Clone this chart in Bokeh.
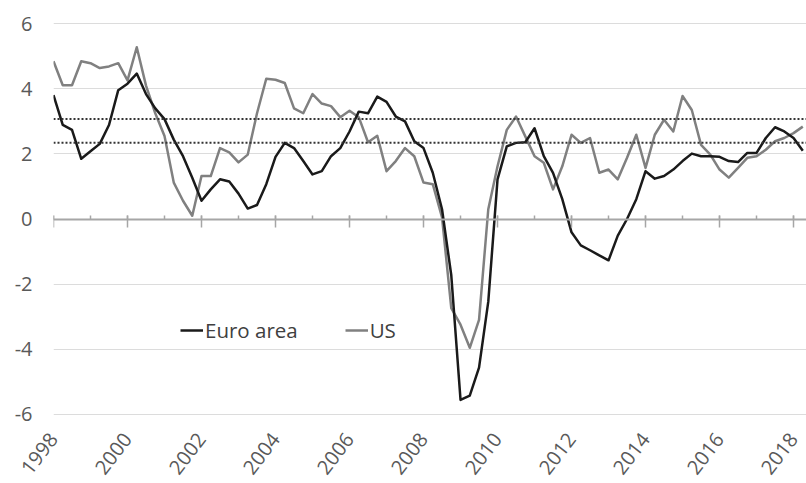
import math
from bokeh.plotting import figure
from bokeh.models import (Range1d, LinearAxis, SingleIntervalTicker, Span,
                          Legend, LegendItem, ColumnDataSource)
from bokeh.embed import file_html
from bokeh.resources import INLINE

# ---- data (quarterly, 1998Q1 - 2018Q2), % y/y ----
start_year = 1998
euro_area = [
    3.81, 2.89, 2.74, 1.85, 2.08, 2.31, 2.89, 3.96,
    4.16, 4.47, 3.84, 3.40, 3.07, 2.44, 1.93, 1.27,
    0.56, 0.91, 1.22, 1.15, 0.78, 0.32, 0.43, 1.07,
    1.91, 2.34, 2.18, 1.78, 1.37, 1.47, 1.93, 2.18,
    2.69, 3.30, 3.25, 3.76, 3.60, 3.15, 3.00, 2.39,
    2.18, 1.42, 0.30, -1.73, -5.56, -5.43, -4.57, -2.54,
    1.22, 2.23, 2.34, 2.36, 2.79, 1.93, 1.42, 0.61,
    -0.41, -0.81, -0.96, -1.12, -1.27, -0.51, 0.00, 0.61,
    1.47, 1.24, 1.32, 1.52, 1.78, 2.01, 1.93, 1.93,
    1.91, 1.78, 1.75, 2.03, 2.03, 2.49, 2.82, 2.69,
    2.49, 2.10,
]
us = [
    4.85, 4.11, 4.11, 4.85, 4.79, 4.64, 4.69, 4.79,
    4.26, 5.28, 4.10, 3.25, 2.55, 1.12, 0.56, 0.10,
    1.32, 1.32, 2.18, 2.05, 1.74, 1.98, 3.25, 4.31,
    4.28, 4.18, 3.40, 3.25, 3.84, 3.55, 3.47, 3.13,
    3.33, 3.13, 2.36, 2.56, 1.47, 1.78, 2.18, 1.93,
    1.12, 1.07, 0.05, -2.74, -3.25, -3.96, -3.10, 0.30,
    1.62, 2.74, 3.15, 2.54, 1.93, 1.73, 0.91, 1.62,
    2.59, 2.34, 2.49, 1.42, 1.52, 1.22, 1.88, 2.59,
    1.57, 2.59, 3.05, 2.69, 3.78, 3.35, 2.28, 1.98,
    1.52, 1.27, 1.57, 1.88, 1.93, 2.13, 2.39, 2.49,
    2.64, 2.84,
]
us_average = 3.07
euro_average = 2.34
series_labels = ["Euro area", "US"]
y_ticks = [-6, -4, -2, 0, 2, 4, 6]
x_ticks = list(range(1998, 2020, 2))

quarters = [start_year + i / 4 for i in range(len(euro_area))]
src = ColumnDataSource(dict(x=quarters, euro=euro_area, us=us))

FONT = "Open Sans"
LABEL_COLOR = "#595959"
AXIS_GRAY = "#a6a6a6"

p = figure(width=806, height=483, output_backend="svg", toolbar_location=None,
           x_range=Range1d(1998, 2018.35), y_range=Range1d(-6.04, 6.04),
           min_border_left=53, min_border_right=0, min_border_top=22,
           min_border_bottom=64)
p.outline_line_color = None
p.background_fill_color = "white"
p.border_fill_color = "white"

# y axis: labels only
p.yaxis.ticker = SingleIntervalTicker(interval=2, num_minor_ticks=0)
p.yaxis.major_label_overrides = {t: str(t) for t in y_ticks}
p.yaxis.axis_line_color = None
p.yaxis.major_tick_line_color = None
p.yaxis.minor_tick_line_color = None
p.yaxis.major_tick_out = 0
p.yaxis.major_label_text_font = FONT
p.yaxis.major_label_text_font_size = "20px"
p.yaxis.major_label_text_color = LABEL_COLOR
p.yaxis.major_label_standoff = 21

p.ygrid.ticker = SingleIntervalTicker(interval=2, num_minor_ticks=0)
p.ygrid.grid_line_color = "#dcdcdc"
p.ygrid.grid_line_width = 1
p.xgrid.grid_line_color = None

# x axis at bottom: rotated labels only
p.xaxis.ticker = SingleIntervalTicker(interval=2, num_minor_ticks=2)
p.xaxis.axis_line_color = None
p.xaxis.major_tick_line_color = None
p.xaxis.minor_tick_line_color = None
p.xaxis.major_tick_out = 0
p.xaxis.major_tick_in = 0
p.xaxis.major_label_orientation = 0.91
p.xaxis.major_label_text_font = FONT
p.xaxis.major_label_text_font_size = "20px"
p.xaxis.major_label_text_color = LABEL_COLOR
p.xaxis.major_label_standoff = 16

# zero line axis with ticks
zero_axis = LinearAxis(
    fixed_location=0,
    ticker=SingleIntervalTicker(interval=2, num_minor_ticks=2),
    axis_line_color=AXIS_GRAY, axis_line_width=2,
    major_tick_line_color=AXIS_GRAY, major_tick_line_width=1.5,
    major_tick_in=4, major_tick_out=8,
    minor_tick_line_color=AXIS_GRAY, minor_tick_line_width=1.5,
    minor_tick_in=4, minor_tick_out=0,
    major_label_overrides={t: "" for t in x_ticks},
    major_label_text_font_size="1px", major_label_text_alpha=0,
    major_label_standoff=0,
)
p.add_layout(zero_axis, "below")

# average lines
for lvl in (us_average, euro_average):
    p.add_layout(Span(location=lvl, dimension="width", line_color="#333333",
                      line_width=2, line_dash="2 2"))

r_us = p.line("x", "us", source=src, line_color="#808080", line_width=2.5,
              line_join="round")
r_eu = p.line("x", "euro", source=src, line_color="#1a1a1a", line_width=2.5,
              line_join="round")

legend = Legend(items=[LegendItem(label=series_labels[0], renderers=[r_eu]),
                       LegendItem(label=series_labels[1], renderers=[r_us])],
                location=(127, 71), orientation="horizontal",
                glyph_width=23, glyph_height=20, label_standoff=2, spacing=47,
                padding=0, margin=0, border_line_color=None,
                background_fill_alpha=0,
                label_text_font=FONT, label_text_font_size="20.5px",
                label_text_color="#404040")
p.add_layout(legend, "center")

open("out.html", "w").write(file_html(p, INLINE))
